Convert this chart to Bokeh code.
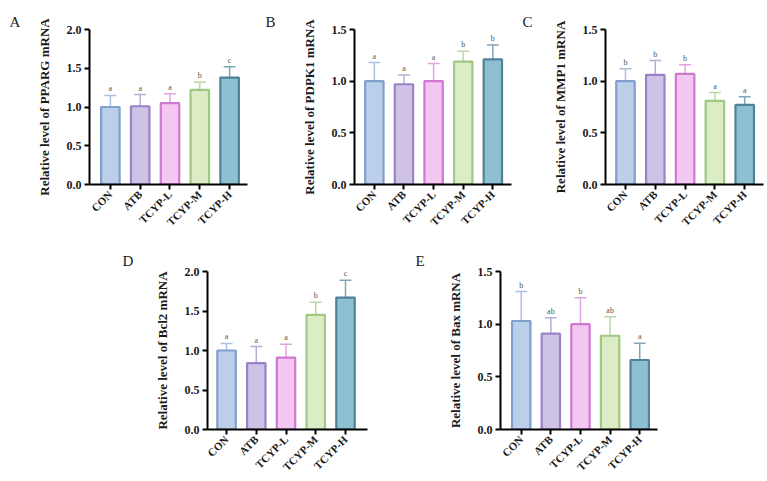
import math
from bokeh.plotting import figure
from bokeh.layouts import row, column, Spacer
from bokeh.models import FixedTicker, ColumnDataSource, PrintfTickFormatter
from bokeh.embed import file_html
from bokeh.resources import INLINE

categories = ["CON", "ATB", "TCYP-L", "TCYP-M", "TCYP-H"]

pparg_mean = [1.00, 1.01, 1.05, 1.22, 1.38]
pparg_upper = [1.15, 1.16, 1.17, 1.32, 1.52]
pparg_sig = ["a", "a", "a", "b", "c"]

pdpk1_mean = [1.00, 0.97, 1.00, 1.19, 1.21]
pdpk1_upper = [1.18, 1.06, 1.17, 1.29, 1.35]
pdpk1_sig = ["a", "a", "a", "b", "b"]

mmp1_mean = [1.00, 1.06, 1.07, 0.81, 0.77]
mmp1_upper = [1.12, 1.20, 1.16, 0.89, 0.85]
mmp1_sig = ["b", "b", "b", "a", "a"]

bcl2_mean = [1.00, 0.84, 0.91, 1.45, 1.67]
bcl2_upper = [1.09, 1.05, 1.08, 1.61, 1.89]
bcl2_sig = ["a", "a", "a", "b", "c"]

bax_mean = [1.03, 0.91, 1.00, 0.89, 0.66]
bax_upper = [1.31, 1.06, 1.25, 1.07, 0.82]
bax_sig = ["b", "ab", "b", "ab", "a"]

fill_colors = ["#bccfea", "#cec3e6", "#f4c6f2", "#dcecc4", "#8fc0d2"]
line_colors = ["#7f9fcc", "#9a82c6", "#cf78cf", "#9fc882", "#4f8199"]
err_colors = ["#a9c1e2", "#b9acd8", "#e0a4e0", "#bcd8a8", "#7ea7b8"]

FONT = "Liberation Serif"


def panel(letter, gene, mean, upper, sig, ymax, ticks, width, height,
          bl, br, bt, bb, xr, title_offset, title_standoff):
    p = figure(width=width, height=height, output_backend="svg",
               toolbar_location=None, x_range=xr, y_range=(0, ymax),
               min_border_left=bl, min_border_right=br,
               min_border_top=bt, min_border_bottom=bb)
    p.outline_line_color = None
    p.xgrid.visible = False
    p.ygrid.visible = False
    p.background_fill_color = "white"
    p.border_fill_color = "white"
    xs = list(range(len(categories)))
    src = ColumnDataSource(dict(x=xs, top=mean, up=upper, sig=sig,
                                fill=fill_colors, line=line_colors, err=err_colors,
                                x0=[x - 0.2 for x in xs], x1=[x + 0.2 for x in xs]))
    p.segment(x0="x", y0="top", x1="x", y1="up", line_color="err", line_width=1.5, source=src)
    p.segment(x0="x0", y0="up", x1="x1", y1="up", line_color="err", line_width=1.5, source=src)
    p.vbar(x="x", top="top", bottom=0, width=0.62, fill_color="fill",
           line_color="line", line_width=2.2, source=src)
    p.text(x="x", y="up", text="sig", text_align="center", text_baseline="bottom",
           text_font_size="8px", text_color="#555555", y_offset=-2,
           text_font={"value": FONT}, source=src)

    p.xaxis.ticker = FixedTicker(ticks=xs)
    p.xaxis.major_label_overrides = {i: c for i, c in enumerate(categories)}
    p.xaxis.major_label_orientation = math.pi / 4
    p.yaxis.ticker = FixedTicker(ticks=ticks)
    p.yaxis.formatter = PrintfTickFormatter(format="%.1f")
    for ax in (p.xaxis, p.yaxis):
        ax.axis_line_color = "black"
        ax.axis_line_width = 2
        ax.major_tick_line_color = "black"
        ax.major_tick_line_width = 2
        ax.major_tick_in = 0
        ax.major_tick_out = 5
        ax.minor_tick_line_color = None
        ax.major_label_text_font = FONT
        ax.major_label_text_font_style = "bold"
        ax.major_label_text_color = "#1a1a1a"
    p.xaxis.major_label_text_font_size = "11px"
    p.xaxis.major_label_standoff = 3
    p.yaxis.major_label_text_font_size = "12px"
    p.yaxis.major_label_standoff = 3
    p.yaxis.axis_label = "Relative level of %s mRNA" % gene
    p.yaxis.axis_label_text_font = FONT
    p.yaxis.axis_label_text_font_style = "bold"
    p.yaxis.axis_label_text_font_size = "13px"
    p.yaxis.axis_label_text_color = "#1a1a1a"
    p.yaxis.axis_label_standoff = 12

    p.title.text = letter
    p.title.align = "left"
    p.title.offset = title_offset
    p.title.standoff = title_standoff
    p.title.text_font = FONT
    p.title.text_font_style = "normal"
    p.title.text_font_size = "15px"
    p.title.text_color = "#222222"
    return p


tA = [0.0, 0.5, 1.0, 1.5, 2.0]
tB = [0.0, 0.5, 1.0, 1.5]

pA = panel("A", "PPARG", pparg_mean, pparg_upper, pparg_sig, 2.0, tA,
           252, 240, 89, 5, 27, 56, (-0.7, 4.6), -80, 0)
pB = panel("B", "PDPK1", pdpk1_mean, pdpk1_upper, pdpk1_sig, 1.5, tB,
           263, 240, 102, 4, 27, 56, (-0.67, 4.63), -89, 0)
pC = panel("C", "MMP1", mmp1_mean, mmp1_upper, mmp1_sig, 1.5, tB,
           252, 240, 90, 4, 29, 52, (-0.67, 4.63), -83, 0)
pD = panel("D", "Bcl2", bcl2_mean, bcl2_upper, bcl2_sig, 2.0, tA,
           280, 241, 97, 23, 31, 52, (-0.64, 4.74), -85, 5)
pE = panel("E", "Bax", bax_mean, bax_upper, bax_sig, 1.5, tB,
           280, 241, 110, 13, 31, 52, (-0.7, 4.6), -85, 5)

layout = column(row(pA, pB, pC), row(Spacer(width=110, height=241), pD, pE))

open("out.html", "w").write(file_html(layout, INLINE))
